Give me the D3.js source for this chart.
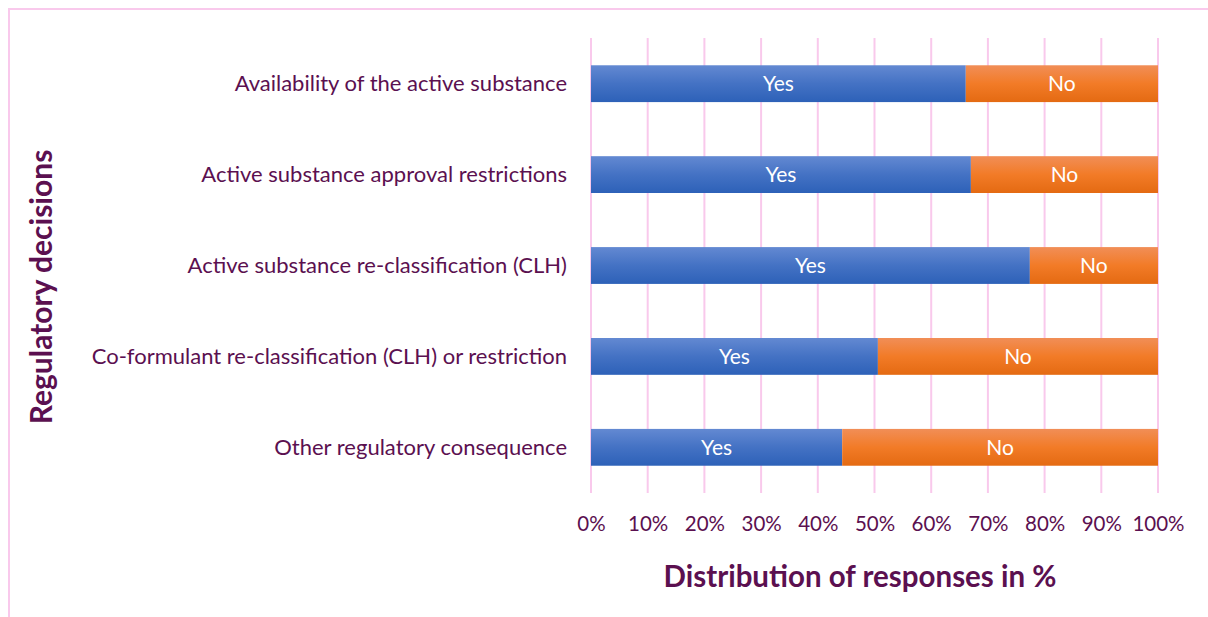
<!DOCTYPE html>
<html>
<head>
<meta charset="utf-8">
<script src="https://cdn.jsdelivr.net/npm/d3@7"></script>
<style>
  body { margin: 0; background: #fff; }
  svg { display: block; }
</style>
</head>
<body>
<div id="chart"></div>
<script>
// dimensions
const width = 1208;
const height = 617;

// data
const categories = [
    "Availability of the active substance",
    "Active substance approval restrictions",
    "Active substance re-classification (CLH)",
    "Co-formulant re-classification (CLH) or restriction",
    "Other regulatory consequence"
];
const yesValues = [66.1, 67.0, 77.4, 50.6, 44.3];
const noValues = [33.9, 33.0, 22.6, 49.4, 55.7];
const seriesNames = ["Yes", "No"];
const tickValues = [0, 10, 20, 30, 40, 50, 60, 70, 80, 90, 100];

const margin = { top: 38, left: 591, right: 50, bottom: 124 };
const labelColor = "#5b1050";
const gridColor = "#f9c9ec";
const font = "Lato, 'Open Sans', sans-serif";

const svg = d3.select("#chart").append("svg")
    .attr("width", width)
    .attr("height", height);

// gradients, Office style
const defs = svg.append("defs");
const grads = [
    { id: "gYes", stops: ["#6389d2", "#4472c4", "#2d61b8"] },
    { id: "gNo", stops: ["#f18e57", "#f27b27", "#e46a12"] }
];
grads.forEach(g => {
    const lg = defs.append("linearGradient")
        .attr("id", g.id)
        .attr("x1", 0).attr("y1", 0).attr("x2", 0).attr("y2", 1);
    g.stops.forEach((c, i) => lg.append("stop")
        .attr("offset", (i * 50) + "%")
        .attr("stop-color", c));
});

// frame
svg.append("path")
    .attr("d", `M9,${height} V9 H${width}`)
    .attr("fill", "none")
    .attr("stroke", gridColor)
    .attr("stroke-width", 2);

const x = d3.scaleLinear()
    .domain([0, 100])
    .range([margin.left, 1158]);

const y = d3.scaleBand()
    .domain(categories)
    .range([margin.top, height - margin.bottom])
    .paddingInner(0.595)
    .paddingOuter(0.3);

// gridlines
svg.append("g")
    .selectAll("line")
    .data(tickValues)
    .join("line")
    .attr("x1", d => x(d)).attr("x2", d => x(d))
    .attr("y1", margin.top).attr("y2", height - margin.bottom)
    .attr("stroke", gridColor)
    .attr("stroke-width", 2);

// stacked data
const rows = categories.map((c, i) => ({ cat: c, Yes: yesValues[i], No: noValues[i] }));
const stack = d3.stack().keys(seriesNames)(rows);

const layer = svg.append("g")
    .selectAll("g")
    .data(stack)
    .join("g")
    .attr("fill", (d, i) => `url(#${grads[i].id})`);

layer.selectAll("rect")
    .data(d => d.map(p => ({ p, key: d.key })))
    .join("rect")
    .attr("x", d => x(d.p[0]))
    .attr("width", d => x(d.p[1]) - x(d.p[0]))
    .attr("y", d => y(d.p.data.cat))
    .attr("height", y.bandwidth());

layer.selectAll("text")
    .data(d => d.map(p => ({ p, key: d.key })))
    .join("text")
    .attr("x", d => (x(d.p[0]) + x(d.p[1])) / 2)
    .attr("y", d => y(d.p.data.cat) + y.bandwidth() / 2)
    .attr("dy", "0.35em")
    .attr("text-anchor", "middle")
    .attr("fill", "#fff")
    .style("font-family", font)
    .style("font-size", "21px")
    .text(d => d.key);

// category labels
svg.append("g")
    .selectAll("text")
    .data(categories)
    .join("text")
    .attr("x", 567)
    .attr("y", d => y(d) + y.bandwidth() / 2)
    .attr("dy", "0.35em")
    .attr("text-anchor", "end")
    .attr("fill", labelColor)
    .style("font-family", font)
    .style("font-size", "22px")
    .text(d => d);

// x axis tick labels
const xAxis = svg.append("g")
    .attr("transform", `translate(0,${height - margin.bottom})`)
    .call(d3.axisBottom(x).tickValues(tickValues).tickFormat(d => d + "%").tickSize(0).tickPadding(23));
xAxis.select(".domain").remove();
xAxis.selectAll("text")
    .attr("fill", labelColor)
    .style("font-family", font)
    .style("font-size", "20.5px");

// axis titles
svg.append("text")
    .attr("x", 860)
    .attr("y", 587)
    .attr("text-anchor", "middle")
    .attr("fill", labelColor)
    .style("font-family", font)
    .style("font-weight", "bold")
    .style("font-size", "29.5px")
    .text("Distribution of responses in %");

svg.append("text")
    .attr("transform", "translate(52,287) rotate(-90)")
    .attr("text-anchor", "middle")
    .attr("fill", labelColor)
    .style("font-family", font)
    .style("font-weight", "bold")
    .style("font-size", "30px")
    .text("Regulatory decisions");
</script>
</body>
</html>
